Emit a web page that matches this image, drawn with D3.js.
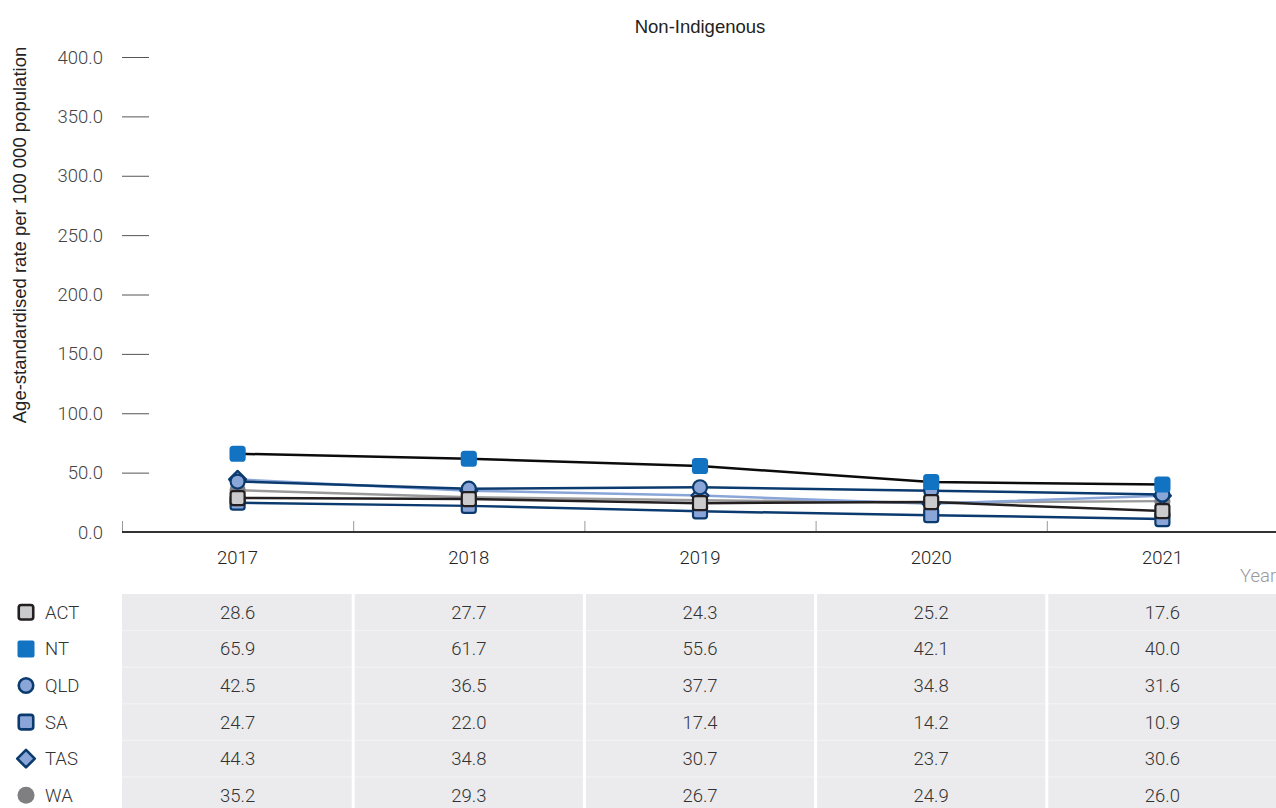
<!DOCTYPE html>
<html>
<head>
<meta charset="utf-8">
<script src="https://cdn.jsdelivr.net/npm/d3@7"></script>
<style>
  html, body { margin: 0; padding: 0; background: #fff; }
  svg { display: block; font-family: Roboto, "Noto Sans", sans-serif; font-weight: 300; }
  .sans { font-family: "Liberation Sans", Arial, sans-serif; font-weight: 400; }
</style>
</head>
<body>
<svg id="chart" width="1276" height="808"></svg>
<script>
// Age-standardised rates, non-Indigenous, by jurisdiction
const years = ["2017", "2018", "2019", "2020", "2021"];
const jurisdictions = ["ACT", "NT", "QLD", "SA", "TAS", "WA"];
const actValues = [28.6, 27.7, 24.3, 25.2, 17.6];
const ntValues = [65.9, 61.7, 55.6, 42.1, 40.0];
const qldValues = [42.5, 36.5, 37.7, 34.8, 31.6];
const saValues = [24.7, 22.0, 17.4, 14.2, 10.9];
const tasValues = [44.3, 34.8, 30.7, 23.7, 30.6];
const waValues = [35.2, 29.3, 26.7, 24.9, 26.0];
const yTicks = [0, 50, 100, 150, 200, 250, 300, 350, 400];

const valuesByState = {
  ACT: actValues, NT: ntValues, QLD: qldValues,
  SA: saValues, TAS: tasValues, WA: waValues
};

const styles = {
  ACT: { line: "#231f20", fill: "#cbcbcd", stroke: "#231f20", shape: "square" },
  NT:  { line: "#0b0b0b", fill: "#1273c2", stroke: "#1273c2", shape: "square" },
  QLD: { line: "#0b3a6e", fill: "#8aa6d8", stroke: "#0b3a6e", shape: "circle" },
  SA:  { line: "#0b3a6e", fill: "#8aa6d8", stroke: "#0b3a6e", shape: "square" },
  TAS: { line: "#8aa6d8", fill: "#8aa6d8", stroke: "#0b3a6e", shape: "diamond" },
  WA:  { line: "#9a9a9c", fill: "#7f7f82", stroke: "#7f7f82", shape: "circle" }
};

const FS = 18.5;
const svg = d3.select("#chart");
const W = 1276;
const plotLeft = 122, plotRight = 1278;
const x = d3.scaleBand().domain(years).range([plotLeft, plotRight]);
const y = d3.scaleLinear().domain([0, 400]).range([532, 57]);

// Title
svg.append("text").attr("class", "sans").attr("x", 700).attr("y", 33)
  .attr("text-anchor", "middle").attr("font-size", 18.5).attr("fill", "#222")
  .text("Non-Indigenous");

// Y axis label
svg.append("text").attr("class", "sans")
  .attr("transform", `translate(26, 235) rotate(-90)`)
  .attr("text-anchor", "middle").attr("font-size", 18.5).attr("fill", "#222")
  .text("Age-standardised rate per 100 000 population");

// Y ticks: short horizontal dashes with labels
const yg = svg.append("g");
yg.selectAll("line").data(yTicks).join("line")
  .attr("x1", plotLeft).attr("x2", 149)
  .attr("y1", d => y(d) + 0.5).attr("y2", d => y(d) + 0.5)
  .attr("stroke", "#555").attr("stroke-width", 1);
yg.selectAll("text").data(yTicks).join("text")
  .attr("x", 103).attr("y", d => y(d) + 6.5)
  .attr("text-anchor", "end").attr("font-size", FS).attr("fill", "#444")
  .text(d => d.toFixed(1));

// X axis baseline and band ticks
const bandEdges = years.map(yr => x(yr));
svg.append("g").selectAll("line").data(bandEdges).join("line")
  .attr("x1", d => d + 0.5).attr("x2", d => d + 0.5)
  .attr("y1", 521).attr("y2", 532)
  .attr("stroke", "#999").attr("stroke-width", 1);
svg.append("line")
  .attr("x1", plotLeft).attr("x2", W)
  .attr("y1", 532).attr("y2", 532)
  .attr("stroke", "#333").attr("stroke-width", 2);

svg.append("g").selectAll("text").data(years).join("text")
  .attr("x", d => x(d) + x.bandwidth() / 2).attr("y", 564)
  .attr("text-anchor", "middle").attr("font-size", FS).attr("fill", "#222")
  .text(d => d);

svg.append("text").attr("x", 1240).attr("y", 582)
  .attr("font-size", FS).attr("fill", "#9a9a9c").text("Year");

// Lines
const cx = yr => x(yr) + x.bandwidth() / 2;
const lineGen = d3.line().x((d, i) => cx(years[i])).y(d => y(d));
const lineOrder = ["WA", "TAS", "SA", "QLD", "ACT", "NT"];
svg.append("g").selectAll("path").data(lineOrder).join("path")
  .attr("d", s => lineGen(valuesByState[s]))
  .attr("fill", "none")
  .attr("stroke", s => styles[s].line)
  .attr("stroke-width", 2.5);

// Marker drawing helper
function drawMarker(g, shape, st, px, py, size, sw) {
  if (shape === "square") {
    g.append("rect")
      .attr("x", px - size / 2).attr("y", py - size / 2)
      .attr("width", size).attr("height", size).attr("rx", 2.5)
      .attr("fill", st.fill).attr("stroke", st.stroke).attr("stroke-width", sw);
  } else if (shape === "circle") {
    g.append("circle").attr("cx", px).attr("cy", py).attr("r", size / 2)
      .attr("fill", st.fill).attr("stroke", st.stroke).attr("stroke-width", sw);
  } else {
    const r = size / 2 + 1.5;
    g.append("path")
      .attr("d", `M${px},${py - r}L${px + r},${py}L${px},${py + r}L${px - r},${py}Z`)
      .attr("fill", st.fill).attr("stroke", st.stroke).attr("stroke-width", sw)
      .attr("stroke-linejoin", "round");
  }
}

const markerOrder = ["WA", "TAS", "SA", "QLD", "NT", "ACT"];
const mg = svg.append("g");
markerOrder.forEach(s => {
  valuesByState[s].forEach((v, i) => {
    drawMarker(mg, styles[s].shape, styles[s], cx(years[i]), y(v), 14, 2.2);
  });
});

// Data table
const rowTop = 594, rowH = 36.6;
const tg = svg.append("g");
tg.append("rect").attr("x", plotLeft).attr("y", rowTop)
  .attr("width", W - plotLeft).attr("height", 808 - rowTop).attr("fill", "#ebebed");
jurisdictions.forEach((s, r) => {
  if (r > 0) {
    tg.append("line").attr("x1", plotLeft).attr("x2", W)
      .attr("y1", rowTop + r * rowH).attr("y2", rowTop + r * rowH)
      .attr("stroke", "#f4f4f5").attr("stroke-width", 1);
  }
});
bandEdges.slice(1).forEach(e => {
  tg.append("rect").attr("x", e - 1.5).attr("y", rowTop)
    .attr("width", 3).attr("height", 808 - rowTop).attr("fill", "#fff");
});
jurisdictions.forEach((s, r) => {
  const cy = rowTop + r * rowH + rowH / 2;
  // legend key
  const st = styles[s];
  if (s === "WA") {
    tg.append("circle").attr("cx", 26).attr("cy", cy).attr("r", 8.5).attr("fill", st.fill);
  } else if (s === "NT") {
    tg.append("rect").attr("x", 17.5).attr("y", cy - 8.5).attr("width", 17).attr("height", 17)
      .attr("rx", 2).attr("fill", st.fill);
  } else {
    drawMarker(tg, st.shape, st, 26, cy, 14.5, 2.6);
  }
  tg.append("text").attr("x", 45).attr("y", cy + 6.5)
    .attr("font-size", FS).attr("fill", "#333").text(s);
  valuesByState[s].forEach((v, i) => {
    tg.append("text").attr("x", cx(years[i])).attr("y", cy + 6.5)
      .attr("text-anchor", "middle").attr("font-size", FS).attr("fill", "#333")
      .text(v.toFixed(1));
  });
});
</script>
</body>
</html>
